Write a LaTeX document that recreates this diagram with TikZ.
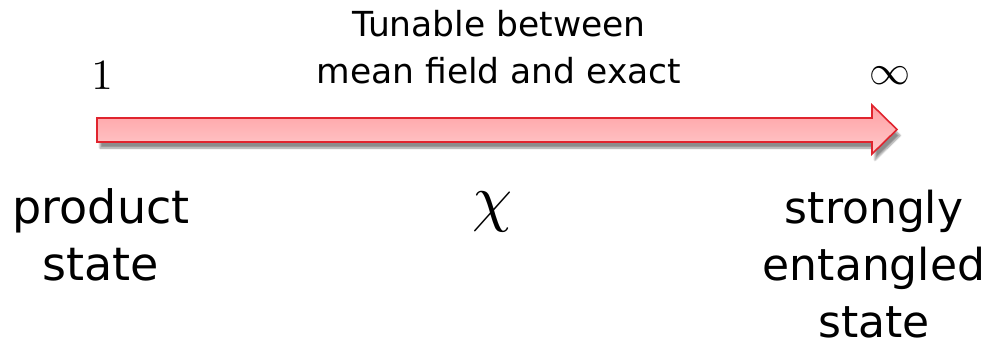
\documentclass[tikz,border=0pt]{standalone}
\usepackage{graphicx}
\usepackage{fontspec}
\setsansfont{DejaVu Sans}
\usetikzlibrary{shadows.blur}
\definecolor{arrowborder}{HTML}{E0242E}
\definecolor{arrowtop}{HTML}{FF9FA3}
\definecolor{arrowbot}{HTML}{FFCACB}
\tikzset{
  lbl/.style={inner sep=0pt, align=center, font=\sffamily\fontsize{44}{57}\selectfont},
  toplbl/.style={inner sep=0pt, align=center, font=\sffamily\fontsize{34.5}{47}\selectfont},
  mathlbl/.style={inner sep=0pt, anchor=base},
  bigarrow/.style={draw=arrowborder, line width=1.6pt, line join=miter, top color=arrowtop, bottom color=arrowbot,
    blur shadow={shadow xshift=3pt, shadow yshift=-6pt, shadow blur steps=8, shadow opacity=45}}
}
\begin{document}
\begin{tikzpicture}[x=1pt,y=-1pt]
\useasboundingbox (0,0) rectangle (988,350);
\path[bigarrow] (97,118) -- (872,118) -- (872,105) -- (897,129.5) -- (872,154) -- (872,142) -- (97,142) -- cycle;
\node[toplbl] (tun) at (499,47.5) {Tunable between\\mean field and exact};
\node[mathlbl] (one) at (102,90) {\scalebox{4.3}{$1$}};
\node[mathlbl] (inf) at (890,85) {\scalebox{4.1}{$\infty$}};
\node[mathlbl] (chi) at (493,219) {\scalebox{6.4}{$\chi$}};
\node[lbl, font=\sffamily\fontsize{46}{57}\selectfont] (prod) at (101,234.5) {product\\state};
\node[lbl] (ent) at (874,264.5) {strongly\\entangled\\state};
\end{tikzpicture}
\end{document}
